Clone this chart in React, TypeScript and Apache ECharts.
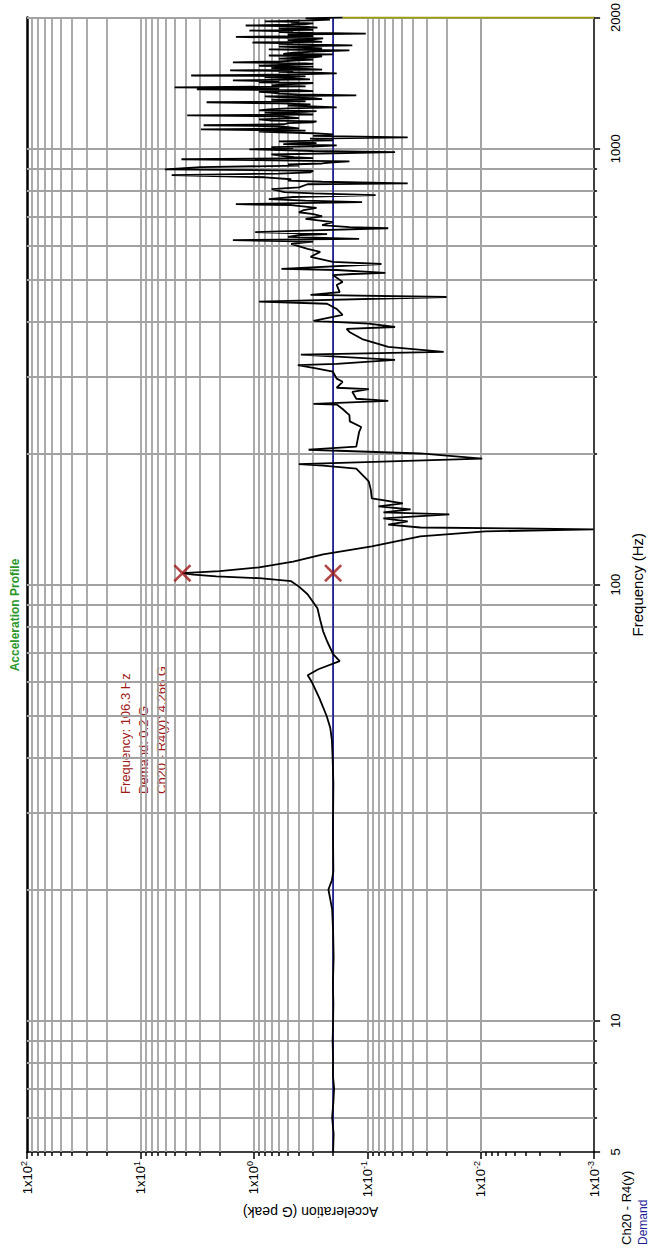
import React, { useEffect, useRef } from "react";
import * as echarts from "echarts";

const FONT = "'Liberation Sans', Arial, sans-serif";

// Frequency (Hz), acceleration (G peak) of measured response Ch20 - R4(y)
const response: [number, number][] = [
  [5, 0.2], [5.5, 0.198], [6, 0.204], [6.5, 0.199], [7, 0.196], [7.5, 0.201], [8, 0.2], [9, 0.202],
  [10, 0.2], [11, 0.199], [12, 0.201], [14, 0.198], [16, 0.2], [18, 0.204], [19, 0.212], [20, 0.22],
  [21, 0.205], [22, 0.199], [25, 0.2], [28, 0.201], [30, 0.2], [35, 0.199], [40, 0.202], [44, 0.205],
  [47, 0.212], [50, 0.228], [55, 0.265], [60, 0.31], [62, 0.335], [64, 0.27], [66.8, 0.175], [69.3, 0.2],
  [74, 0.225], [78.2, 0.245], [83, 0.26], [88.3, 0.275], [95.1, 0.336], [99, 0.4], [101.9, 0.469],
  [103.5, 0.9], [104.5, 2.14], [105.5, 3.4], [106.3, 4.266], [107.5, 2.0], [109.6, 0.9], [113, 0.45],
  [117.4, 0.245], [122.5, 0.0912], [129.1, 0.0341], [132.5, 0.0091], [133.3, 0.0028], [134, 0.00101],
  [134.6, 0.0047], [135.3, 0.0341], [137.4, 0.0653], [139.7, 0.044], [141.9, 0.0721], [145, 0.0189],
  [146.5, 0.072], [148.8, 0.0415], [151.2, 0.0797], [153.6, 0.0485], [157.8, 0.0912], [165, 0.093],
  [172.5, 0.097], [184.6, 0.125], [187.5, 0.245], [189, 0.401], [194.6, 0.0097], [200, 0.0341],
  [204, 0.329], [207.4, 0.125], [224, 0.118], [230, 0.113], [237, 0.1425], [245, 0.1437], [253, 0.165],
  [259, 0.186], [260, 0.298], [264, 0.0653], [267, 0.125], [277, 0.1355], [281, 0.097], [283, 0.186],
  [292, 0.165], [297, 0.186], [308, 0.201], [313, 0.275], [319, 0.409], [321, 0.186], [328, 0.0569],
  [337, 0.385], [342, 0.0212], [351, 0.0653], [366, 0.111], [380, 0.1437], [386, 0.152], [390, 0.0569],
  [397, 0.097], [403, 0.298], [416, 0.165], [429, 0.186], [441, 0.226], [446, 0.899], [457, 0.02],
  [462, 0.316], [469, 0.175], [487, 0.186], [495, 0.165], [513, 0.201], [516, 0.1355], [519, 0.0693],
  [527, 0.186], [530, 0.571], [544, 0.075], [550, 0.201], [565, 0.316], [580, 0.26], [589, 0.336],
  [605, 0.469], [612, 0.3], [617, 1.53], [621, 0.118], [628, 0.5], [634, 0.385], [637, 0.226],
  [644, 0.973], [650, 0.3], [657, 0.0653], [661, 0.1437], [668, 0.25], [679, 0.201], [690, 0.35],
  [700, 0.25], [708, 0.298], [715, 0.4], [723, 0.363], [732, 0.28], [742, 0.469], [746, 1.44],
  [754, 0.111], [760, 0.35], [766, 0.738], [775, 0.45], [783, 0.0844], [790, 0.3], [795, 0.538],
  [808, 0.696], [815, 0.4], [829, 0.336], [833, 0.044], [840, 0.25], [845, 0.5], [851, 0.469],
  [860, 0.8], [870, 5.3], [877, 0.6], [883, 0.316], [890, 0.3], [897, 6.08], [907, 2.93], [915, 0.4],
  [920, 0.5], [925, 0.25], [931, 0.201], [935, 0.1437], [946, 4.35], [952, 0.3], [956, 0.442],
  [962, 0.55], [970, 0.7], [982, 0.0569], [988, 0.3], [997, 1.095], [1003, 0.45], [1008, 0.7],
  [1012, 0.275], [1018, 0.186], [1025, 0.55], [1030, 0.28], [1035, 0.363], [1040, 0.6], [1045, 0.2],
  [1055, 0.32], [1062, 0.044], [1070, 0.3], [1079, 0.201], [1085, 0.3], [1090, 0.6], [1095, 0.9],
  [1100, 0.35], [1108, 2.93], [1113, 0.4], [1120, 0.5], [1126, 0.65], [1132, 2.77], [1138, 0.538],
  [1145, 0.5], [1150, 0.3], [1155, 0.28], [1160, 0.7], [1168, 0.899], [1175, 0.4], [1180, 0.469],
  [1185, 0.55], [1193, 3.87], [1198, 0.3], [1205, 0.6], [1210, 0.8], [1215, 0.35], [1220, 0.28],
  [1225, 0.9], [1231, 0.738], [1238, 0.5], [1244, 0.186], [1250, 0.3], [1255, 0.5], [1264, 0.316],
  [1270, 0.6], [1278, 2.61], [1284, 0.35], [1290, 0.45], [1295, 0.7], [1300, 0.25], [1306, 0.3],
  [1312, 0.55], [1318, 0.8], [1325, 0.125], [1332, 0.409], [1338, 0.6], [1345, 0.7], [1350, 0.9],
  [1355, 0.3], [1362, 0.4], [1368, 3.18], [1375, 0.6], [1382, 4.99], [1390, 0.35], [1397, 0.696],
  [1404, 0.55], [1410, 0.35], [1415, 0.3], [1420, 0.9], [1428, 0.6], [1434, 1.53], [1442, 0.32],
  [1450, 0.45], [1455, 0.7], [1460, 0.8], [1466, 0.35], [1472, 3.57], [1480, 0.5], [1488, 0.186],
  [1494, 0.3], [1500, 0.6], [1506, 0.45], [1512, 1.62], [1518, 0.25], [1525, 0.35], [1530, 0.7],
  [1536, 0.538], [1543, 0.3], [1550, 0.9], [1558, 0.5], [1565, 0.3], [1570, 0.35], [1577, 1.53],
  [1585, 0.6], [1594, 0.409], [1600, 0.3], [1610, 0.6], [1615, 0.45], [1620, 0.3], [1628, 0.25],
  [1636, 0.738], [1645, 0.201], [1650, 0.55], [1660, 0.45], [1670, 0.3], [1680, 0.1437], [1685, 0.4],
  [1690, 0.738], [1698, 0.25], [1705, 0.35], [1715, 0.6], [1725, 0.1355], [1732, 0.3], [1740, 0.6],
  [1745, 0.45], [1752, 1.03], [1758, 0.25], [1765, 0.3], [1775, 0.5], [1782, 0.3], [1790, 0.245],
  [1798, 0.6], [1805, 1.44], [1812, 0.3], [1820, 0.4], [1828, 0.5], [1837, 0.103], [1843, 0.3],
  [1850, 0.6], [1858, 0.45], [1866, 1.095], [1873, 0.3], [1880, 0.45], [1888, 0.6], [1896, 0.275],
  [1905, 0.35], [1917, 1.18], [1925, 0.5], [1930, 0.35], [1938, 0.3], [1947, 0.469], [1953, 0.4],
  [1960, 0.8], [1970, 0.3], [1978, 0.213], [1990, 0.35], [2000, 0.165],
];

// Demand profile (Hz, G)
const demand: [number, number][] = [[5, 0.2], [2000, 0.2]];
// Limit trace at 2000 Hz (Hz, G)
const limitTrace: [number, number][] = [[2000, 0.165], [2000, 0.001]];
// Cursor markers (Hz, G)
const cursors: [number, number][] = [[106.3, 4.266], [106.3, 0.2]];
const cursorText = ["Frequency: 106.3 Hz", "Demand: 0.2 G", "Ch20 - R4(y): 4.266 G"];

// Axis ticks
const accelMin = 0.001;
const accelMax = 100;
const accelDecades = [0.001, 0.01, 0.1, 1, 10];
const accelMinor = accelDecades.flatMap((d) => [2, 3, 4, 5, 6, 7, 8, 9].map((k) => Number((k * d).toPrecision(3))));
const accelGrid = [...accelDecades.slice(1), ...accelMinor];
const freqMin = 5;
const freqMax = 2000;
const freqLabels = [5, 10, 100, 1000, 2000];
const freqMinor = [6, 7, 8, 9, 20, 30, 40, 50, 60, 70, 80, 90, 200, 300, 400, 500, 600, 700, 800, 900];
const freqGrid = [6, 7, 8, 9, 10, 20, 30, 40, 50, 60, 70, 80, 90, 100, 200, 300, 400, 500, 600, 700, 800, 900, 1000, 2000];

const X_PATH = "path://M0,1L1,0L5,4L9,0L10,1L6,5L10,9L9,10L5,6L1,10L0,9L4,5Z";

export default function App() {
  const ref = useRef<HTMLDivElement>(null);
  useEffect(() => {
    const chart = echarts.init(ref.current!, null, { renderer: "svg" });
    const gridLines = [
      ...accelGrid.map((v) => ({ xAxis: v })),
      ...freqGrid.map((v) => ({ yAxis: v })),
    ];
    const option: any = {
      animation: false,
      backgroundColor: "#ffffff",
      grid: { left: 27, right: 41, top: 15, bottom: 95, containLabel: false },
      xAxis: [
        {
          type: "log",
          logBase: 10,
          min: accelMin,
          max: accelMax,
          inverse: true,
          position: "bottom",
          name: "Acceleration (G peak)",
          nameLocation: "middle",
          nameRotate: 180,
          nameGap: 40,
          nameTextStyle: { fontSize: 14, color: "#000", fontFamily: FONT },
          axisLine: { show: true, lineStyle: { color: "#000", width: 1.5 } },
          axisTick: { show: true, length: 7, lineStyle: { color: "#000", width: 1.5 } },
          splitLine: { show: false },
          axisLabel: {
            rotate: 90,
            margin: 9,
            color: "#000",
            fontFamily: FONT,
            fontSize: 13,
            formatter: (v: number) => `{b|1x10}{s|${Math.round(Math.log10(v))}}`,
            rich: {
              b: { fontSize: 13, fontFamily: FONT, color: "#000", lineHeight: 16 },
              s: { fontSize: 9, fontFamily: FONT, color: "#000", lineHeight: 9, verticalAlign: "top" },
            },
          },
        },
        {
          type: "log",
          logBase: 10,
          min: accelMin,
          max: accelMax,
          inverse: true,
          position: "bottom",
          axisLine: { show: false },
          axisTick: { show: true, length: 4, customValues: accelMinor, lineStyle: { color: "#000", width: 1.5 } },
          axisLabel: { show: false },
          splitLine: { show: false },
        },
      ],
      yAxis: [
        {
          type: "log",
          logBase: 10,
          min: freqMin,
          max: freqMax,
          position: "right",
          name: "Frequency (Hz)",
          nameLocation: "middle",
          nameRotate: 90,
          nameGap: 29,
          nameTextStyle: { fontSize: 15, color: "#000", fontFamily: FONT },
          axisLine: { show: true, lineStyle: { color: "#000", width: 1.5 } },
          axisTick: { show: true, length: 6, customValues: freqLabels, lineStyle: { color: "#000", width: 1.5 } },
          splitLine: { show: false },
          axisLabel: {
            rotate: 90,
            margin: 15,
            color: "#000",
            fontFamily: FONT,
            fontSize: 13,
            customValues: freqLabels,
            formatter: (v: number) => String(Math.round(v)),
            showMinLabel: true,
            showMaxLabel: true,
          },
        },
        {
          type: "log",
          logBase: 10,
          min: freqMin,
          max: freqMax,
          position: "right",
          axisLine: { show: false },
          axisTick: { show: true, length: 3, customValues: freqMinor, lineStyle: { color: "#000", width: 1.5 } },
          axisLabel: { show: false },
          splitLine: { show: false },
        },
        {
          type: "log",
          logBase: 10,
          min: freqMin,
          max: freqMax,
          position: "left",
          axisLine: { show: true, lineStyle: { color: "#000", width: 2.5 } },
          axisTick: { show: false },
          axisLabel: { show: false },
          splitLine: { show: false },
        },
      ],
      series: [
        {
          name: "grid",
          type: "line",
          xAxisIndex: 0,
          yAxisIndex: 0,
          data: [[0.2, 5]],
          showSymbol: false,
          symbol: "none",
          lineStyle: { opacity: 0 },
          silent: true,
          z: 1,
          markLine: {
            silent: true,
            symbol: ["none", "none"],
            label: { show: false },
            lineStyle: { color: "#a2a2a2", width: 1.8, type: "solid" },
            data: gridLines,
            z: 1,
          },
        },
        {
          name: "Demand",
          type: "line",
          xAxisIndex: 0,
          yAxisIndex: 0,
          data: demand.map(([f, a]) => [a, f]),
          symbol: "none",
          lineStyle: { color: "#1c1c96", width: 1.7 },
          z: 3,
        },
        {
          name: "Ch20 - R4(y)",
          type: "line",
          xAxisIndex: 0,
          yAxisIndex: 0,
          data: response.map(([f, a]) => [a, f]),
          symbol: "none",
          lineStyle: { color: "#000", width: 1.8 },
          z: 4,
        },
        {
          name: "limit",
          type: "line",
          xAxisIndex: 0,
          yAxisIndex: 0,
          data: limitTrace.map(([f, a]) => [a, f]),
          symbol: "none",
          lineStyle: { color: "#9c9c10", width: 2 },
          z: 4,
        },
        {
          name: "cursor",
          type: "scatter",
          xAxisIndex: 0,
          yAxisIndex: 0,
          data: cursors.map(([f, a]) => [a, f]),
          symbol: X_PATH,
          symbolSize: 18,
          itemStyle: { color: "#a01818" },
          z: 5,
        },
      ],
      graphic: [
        {
          type: "text",
          x: 15,
          y: 615,
          rotation: Math.PI / 2,
          style: {
            text: "Acceleration Profile",
            fill: "#2a962a",
            font: `bold 12px ${FONT}`,
            textAlign: "center",
            textVerticalAlign: "middle",
          },
        },
        ...cursorText.map((t, i) => ({
          type: "text",
          x: 125 + i * 18,
          y: 794,
          rotation: Math.PI / 2,
          style: {
            text: t,
            fill: "#a01818",
            font: `13px ${FONT}`,
            textAlign: "left",
            textVerticalAlign: "middle",
          },
        })),
        {
          type: "text",
          x: 626,
          y: 1245,
          rotation: Math.PI / 2,
          style: { text: "Ch20 - R4(y)", fill: "#000", font: `13px ${FONT}`, textAlign: "left", textVerticalAlign: "middle" },
        },
        {
          type: "text",
          x: 643,
          y: 1245,
          rotation: Math.PI / 2,
          style: { text: "Demand", fill: "#1c1c96", font: `12px ${FONT}`, textAlign: "left", textVerticalAlign: "middle" },
        },
      ],
    };
    chart.setOption(option);
    return () => chart.dispose();
  }, []);
  return (
    <div
      ref={ref}
      style={{ position: "absolute", left: 0, top: 0, width: 653, height: 1247, background: "#fff" }}
    />
  );
}
